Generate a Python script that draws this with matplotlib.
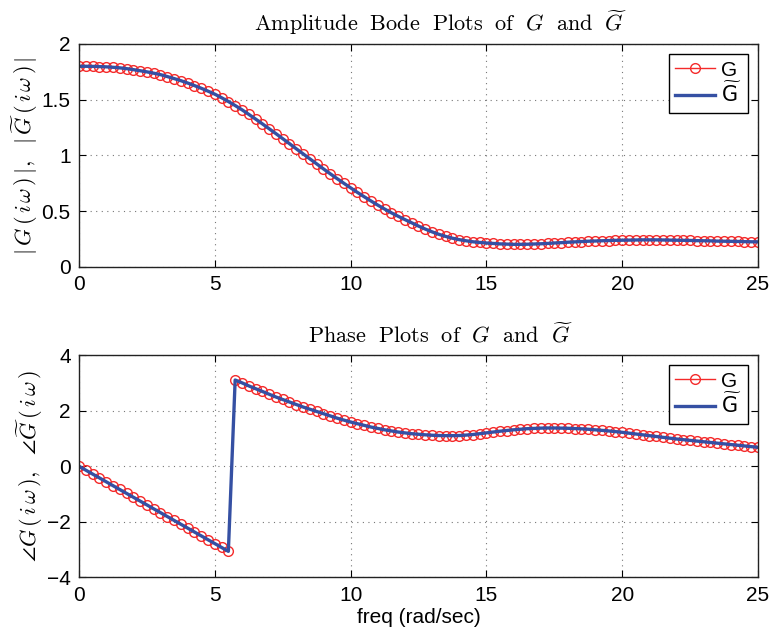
import matplotlib
matplotlib.use('Agg')
import matplotlib.pyplot as plt
import numpy as np

# frequency grid (rad/sec), one sample every 0.25
freq = np.arange(101) * 0.25

# |G(iw)|
mag_G = [
    1.800, 1.800, 1.799, 1.797, 1.795, 1.791, 1.786, 1.779, 1.770, 1.760,
    1.750, 1.738, 1.725, 1.708, 1.690, 1.671, 1.650, 1.627, 1.603, 1.577,
    1.550, 1.518, 1.484, 1.448, 1.410, 1.369, 1.327, 1.284, 1.240, 1.196,
    1.151, 1.106, 1.060, 1.015, 0.970, 0.925, 0.880, 0.836, 0.793, 0.751,
    0.710, 0.669, 0.630, 0.592, 0.555, 0.520, 0.486, 0.455, 0.425, 0.396,
    0.367, 0.340, 0.315, 0.293, 0.274, 0.258, 0.245, 0.235, 0.226, 0.220,
    0.215, 0.211, 0.207, 0.205, 0.203, 0.203, 0.204, 0.206, 0.208, 0.211,
    0.215, 0.218, 0.222, 0.225, 0.228, 0.231, 0.233, 0.235, 0.237, 0.239,
    0.240, 0.241, 0.242, 0.243, 0.243, 0.243, 0.242, 0.241, 0.240, 0.239,
    0.238, 0.236, 0.235, 0.234, 0.232, 0.231, 0.230, 0.229, 0.227, 0.226,
    0.225,
]
mag_Gt = list(mag_G)  # the reduced model lies on top of G

# phase of G(iw) (wraps at ~5.6 rad/sec)
phase_G = [
    0.000, -0.140, -0.280, -0.418, -0.558, -0.697, -0.836, -0.975, -1.113, -1.252,
    -1.390, -1.530, -1.668, -1.808, -1.946, -2.085, -2.224, -2.364, -2.503, -2.642,
    -2.780, -2.920, -3.060,
    3.10, 3.00, 2.89, 2.79, 2.69, 2.59, 2.49, 2.40, 2.31, 2.22,
    2.13, 2.05, 1.97, 1.89, 1.81, 1.73, 1.66, 1.59, 1.53, 1.47,
    1.41, 1.36, 1.31, 1.27, 1.23, 1.20, 1.17, 1.15, 1.13, 1.115,
    1.105, 1.10, 1.10, 1.105, 1.12, 1.14, 1.17, 1.20, 1.23, 1.26,
    1.285, 1.31, 1.33, 1.35, 1.36, 1.37, 1.375, 1.375, 1.37, 1.365,
    1.355, 1.345, 1.33, 1.31, 1.29, 1.27, 1.245, 1.22, 1.19, 1.16,
    1.13, 1.10, 1.07, 1.04, 1.01, 0.98, 0.955, 0.93, 0.905, 0.88,
    0.855, 0.83, 0.805, 0.78, 0.755, 0.73, 0.705, 0.68,
]
phase_Gt = list(phase_G)

plt.rcParams['font.family'] = ['Liberation Sans', 'DejaVu Sans']
plt.rcParams['mathtext.fontset'] = 'cm'

RED = '#f42a2a'
BLUE = '#3550a3'
GT_LABEL = r'$\widetilde{\mathrm{G}}$'

fig = plt.figure(figsize=(7.69, 6.31), dpi=100)
ax1 = fig.add_axes([0.1027, 0.5769, 0.883, 0.3534])
ax2 = fig.add_axes([0.1027, 0.0848, 0.883, 0.3526])


def style_axes(ax):
    ax.set_xlim(0, 25)
    ax.set_xticks([0, 5, 10, 15, 20, 25])
    ax.grid(True, linestyle=(0, (1, 4)), color='#777777', linewidth=0.8)
    ax.tick_params(direction='in', top=True, right=True, length=5,
                   width=0.8, labelsize=15, pad=6)
    for sp in ax.spines.values():
        sp.set_linewidth(1.0)
        sp.set_color('#222222')


def add_legend(ax):
    leg = ax.legend(loc='upper right', fontsize=15, fancybox=False, framealpha=1,
                    edgecolor='black', handlelength=1.9, borderpad=0.3,
                    labelspacing=0.1, handletextpad=0.3, borderaxespad=0.5)
    leg.get_frame().set_linewidth(1.0)
    for t in leg.get_texts():
        t.set_math_fontfamily('dejavusans')
    return leg


# amplitude
ax1.plot(freq, mag_G, color=RED, marker='o', markersize=7, markerfacecolor='none',
         markeredgewidth=1.0, linewidth=1.0, label='G')
ax1.plot(freq, mag_Gt, color=BLUE, linewidth=2.4, label=GT_LABEL)
ax1.set_ylim(0, 2)
ax1.set_yticks([0, 0.5, 1, 1.5, 2])
ax1.set_yticklabels(['0', '0.5', '1', '1.5', '2'])
style_axes(ax1)
ax1.set_title(r'$\mathrm{Amplitude\ \ Bode\ \ Plots\ \ of\ \ }G\mathrm{\ \ and\ \ }\widetilde{G}$',
              fontsize=16, pad=9, x=0.533)
ax1.set_ylabel(r'$|\,G\,(\,i\,\omega\,)\,|,\ \ |\,\widetilde{G}\,(\,i\,\omega\,)\,|$',
               fontsize=16, labelpad=1)
add_legend(ax1)

# phase
ax2.plot(freq, phase_G, color=RED, marker='o', markersize=7, markerfacecolor='none',
         markeredgewidth=1.0, linewidth=1.0, label='G')
ax2.plot(freq, phase_Gt, color=BLUE, linewidth=2.4, label=GT_LABEL)
ax2.set_ylim(-4, 4)
ax2.set_yticks([-4, -2, 0, 2, 4])
ax2.set_yticklabels(['\u22124', '\u22122', '0', '2', '4'])
style_axes(ax2)
ax2.set_title(r'$\mathrm{Phase\ \ Plots\ \ of\ \ }G\mathrm{\ \ and\ \ }\widetilde{G}$',
              fontsize=16, pad=9, x=0.533)
ax2.set_ylabel(r'$\angle G\,(\,i\,\omega\,),\ \ \angle\widetilde{G}\,(\,i\,\omega\,)$',
               fontsize=16, labelpad=1)
ax2.set_xlabel('freq (rad/sec)', fontsize=15, labelpad=2)
add_legend(ax2)

fig.savefig('out.png', dpi=100, facecolor='white')
